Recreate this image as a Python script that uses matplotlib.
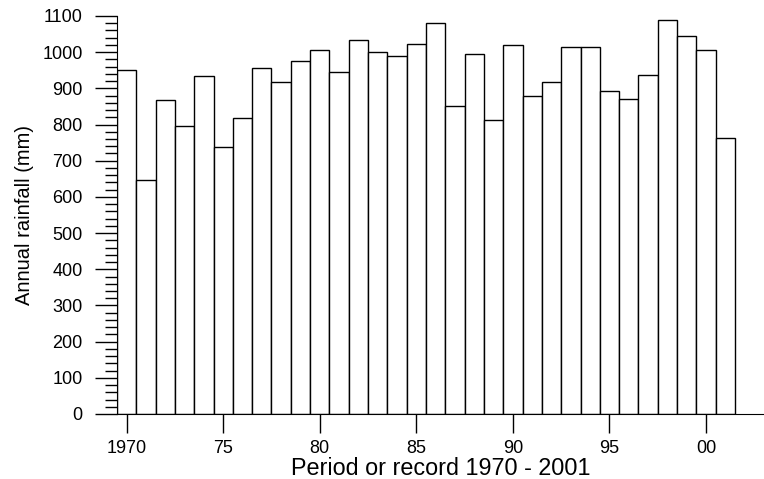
"""Bar chart: annual rainfall, period of record 1970 - 2001."""

import matplotlib.pyplot as plt
import numpy as np
from matplotlib.ticker import MultipleLocator

plt.rcParams["font.family"] = ["Liberation Sans", "DejaVu Sans"]

YEARS = np.arange(1970, 2002)
RAINFALL = [952, 647, 869, 797, 934, 738, 818, 955, 917, 975,
            1006, 946, 1033, 1000, 990, 1022, 1080, 851, 994, 812,
            1021, 880, 918, 1015, 1015, 894, 870, 936, 1089, 1044,
            1006, 762]
XTICKS = [1970, 1975, 1980, 1985, 1990, 1995, 2000]
XTICK_LABELS = ["1970", "75", "80", "85", "90", "95", "00"]


def main():
    fig = plt.figure(figsize=(7.64, 4.79), dpi=100)
    ax = fig.add_axes([0.1531, 0.1357, 1 - 0.1531, 0.9666 - 0.1357])

    ax.bar(YEARS, RAINFALL, width=1.0, color="white", edgecolor="black",
           linewidth=1.0)

    ax.set_xlim(1969.5, 2003.0)
    ax.set_ylim(0, 1100)
    ax.set_xticks(XTICKS)
    ax.set_xticklabels(XTICK_LABELS)
    ax.yaxis.set_major_locator(MultipleLocator(100))
    ax.yaxis.set_minor_locator(MultipleLocator(20))

    ax.tick_params(axis="y", which="major", length=15.8, width=1.0,
                   labelsize=13, pad=9)
    ax.tick_params(axis="y", which="minor", length=8.6, width=1.0)
    ax.tick_params(axis="x", which="major", length=13.7, width=1.0,
                   labelsize=13, pad=5)

    ax.spines["top"].set_visible(False)
    ax.spines["right"].set_visible(False)

    ax.set_xlabel("Period or record 1970 - 2001", fontsize=16.8, labelpad=0)
    ax.set_ylabel("Annual rainfall (mm)", fontsize=14.5, labelpad=6)

    fig.savefig("out.png", dpi=100)
    plt.close(fig)


if __name__ == "__main__":
    main()
